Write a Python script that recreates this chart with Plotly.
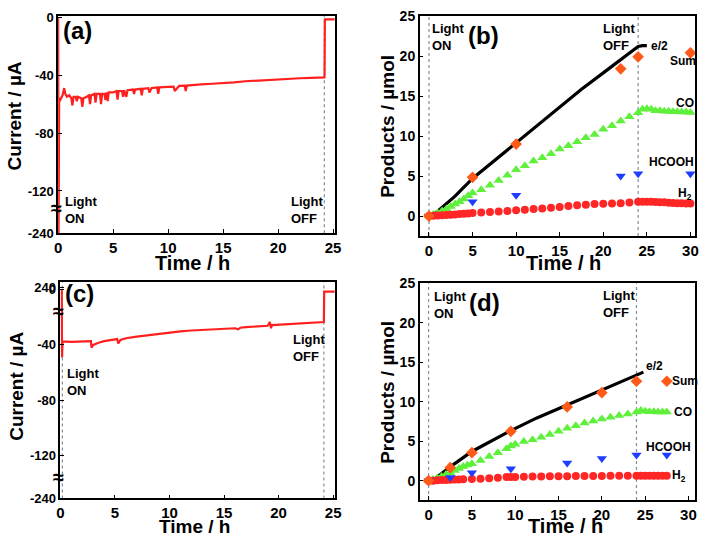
import plotly.graph_objects as go
from plotly.subplots import make_subplots

# ---------------- data ----------------
# (a) photocurrent, sample 1
time_a = [0.0, 0.04, 0.09, 0.2, 0.4, 0.55, 0.65, 0.8, 1.0, 1.2, 1.3, 1.4, 1.6, 1.7, 1.8, 2.1, 2.2,
          2.3, 2.6, 2.8, 2.9, 3.0, 3.3, 3.4, 3.5, 3.8, 3.9, 4.0, 4.2, 4.3, 4.4, 4.5, 4.6, 5.0, 5.3,
          5.4, 5.5, 5.8, 5.9, 6.0, 6.2, 6.3, 6.8, 6.9, 7.0, 7.5, 7.6, 7.7, 8.2, 8.3, 8.5, 9.0, 9.1,
          9.2, 10.0, 10.5, 10.6, 11.0, 11.5, 11.6, 11.7, 12.0, 13.0, 14.0, 15.0, 16.0, 17.0, 18.0,
          19.0, 20.0, 21.0, 22.0, 23.0, 24.2, 24.22, 24.25, 25.15]
current_a = [0, -240, -56, -57, -54, -49, -53, -55, -54, -56, -61, -55, -55, -58, -55, -56, -62,
             -56, -55, -54, -60, -54, -53, -59, -53, -53, -60, -53, -53, -57, -52, -58, -52, -52, -51,
             -57, -51, -51, -55, -50.5, -55, -50.5, -50, -53, -50, -49.5, -54, -49.5, -49, -52, -49, -48.5, -53,
             -48.5, -48.2, -48, -51, -47.5, -47.3, -51, -47.3, -47, -46.5, -46, -45.7, -45, -44.3, -43.8,
             -43.2, -42.8, -42.4, -42.2, -42, -41.6, -41, -1.6, -1.6]

# (c) photocurrent, sample 2
time_c = [0.12, 0.15, 0.2, 1.0, 2.0, 2.8, 2.85, 3.0, 3.5, 4.0, 5.2, 5.3, 5.5, 6.0, 7.0, 8.0, 9.0,
          10.0, 11.0, 12.0, 13.0, 14.0, 15.0, 16.0, 16.3, 16.5, 17.0, 18.0, 19.0, 19.2, 19.3, 19.4,
          20.0, 20.5, 21.0, 22.0, 23.0, 24.15, 24.18, 25.15]
current_c = [0, -49, -37.5, -37.8, -37.6, -37.3, -42, -40, -38.5, -37.3, -35.8, -39, -36.5, -35.2,
             -34, -33, -32, -31.2, -30.3, -29.6, -29.2, -28.8, -28.4, -28, -28.8, -27.6, -27.2, -26.7,
             -26.2, -23.5, -28, -25.7, -25.4, -25.6, -25, -24.5, -24, -23.5, -1.5, -1.5]

# (b) products, sample 1
h2_b_t = [0, 0.5, 1, 1.5, 2, 2.5, 3, 3.5, 4, 4.5, 5, 6, 7, 8, 9, 10, 11, 12, 13, 14, 15, 16, 17, 18,
          19, 20, 21, 22, 23, 24, 24.5, 25, 25.5, 26, 26.5, 27, 27.5, 28, 28.5, 29, 29.5, 30]
h2_b = [0, 0.03, 0.06, 0.1, 0.13, 0.17, 0.21, 0.25, 0.29, 0.33, 0.38, 0.45, 0.5, 0.57, 0.65, 0.73,
        0.8, 0.88, 0.96, 1.05, 1.13, 1.25, 1.34, 1.42, 1.5, 1.54, 1.58, 1.62, 1.7, 1.78, 1.8, 1.8,
        1.78, 1.76, 1.74, 1.72, 1.68, 1.65, 1.62, 1.6, 1.58, 1.56]
co_b_t = h2_b_t
co_b = [0, 0.2, 0.4, 0.65, 0.9, 1.2, 1.5, 1.8, 2.15, 2.55, 2.9, 3.3, 3.85, 4.45, 5.1, 5.8, 6.3,
        6.9, 7.3, 7.8, 8.4, 8.8, 9.3, 9.8, 10.2, 10.85, 11.3, 11.9, 12.4, 12.9, 13.35, 13.4, 13.35,
        13.15, 13.15, 13.1, 13.1, 13.05, 13.05, 13.0, 13.0, 12.95]
hcooh_b_t = [0, 5, 10, 22, 24, 30]
hcooh_b = [0, 1.8, 2.6, 5.0, 5.3, 5.3]
sum_b_t = [0, 5, 10, 22, 24, 30]
sum_b = [0, 4.85, 9.0, 18.4, 19.9, 20.4]
e2_b_t = [0, 0.5, 1, 2, 3, 5, 7.5, 10, 12.5, 15, 17.5, 20, 22, 24, 24.5, 25]
e2_b = [0, 0.2, 0.6, 1.5, 2.5, 4.7, 6.95, 9.2, 11.4, 13.7, 15.85, 17.9, 19.55, 21.2, 21.3, 21.3]

# (d) products, sample 2
h2_d_t = [0, 0.5, 1, 1.5, 2, 2.5, 3, 3.5, 4, 5, 6, 7, 8, 9, 9.5, 10, 11, 12, 13, 14, 15, 16, 17,
          18, 19, 20, 21, 22, 23, 24, 24.5, 25, 25.5, 26, 26.5, 27, 27.5]
h2_d = [0, 0.0, 0.05, 0.08, 0.1, 0.12, 0.14, 0.15, 0.17, 0.2, 0.25, 0.3, 0.37, 0.45, 0.47, 0.48,
        0.5, 0.52, 0.53, 0.55, 0.56, 0.57, 0.58, 0.59, 0.6, 0.6, 0.61, 0.61, 0.62, 0.62, 0.61, 0.61,
        0.61, 0.61, 0.61, 0.61, 0.61]
co_d_t = [0, 0.5, 1, 1.5, 2, 2.5, 3, 3.5, 4, 4.5, 5, 6, 7, 8, 9, 9.5, 10, 11, 12, 13, 14, 15, 16,
          17, 18, 19, 20, 21, 22, 23, 24, 24.5, 25, 25.5, 26, 26.5, 27, 27.5]
co_d = [0, 0.15, 0.33, 0.53, 0.78, 1.0, 1.3, 1.55, 1.8, 2.0, 2.15, 2.55, 3.05, 3.55, 4.05, 4.4,
        4.6, 4.95, 5.2, 5.5, 5.85, 6.25, 6.65, 6.95, 7.3, 7.55, 7.8, 8.05, 8.25, 8.45, 8.7, 8.9,
        8.8, 8.72, 8.72, 8.7, 8.7, 8.7]
hcooh_d_t = [0, 2.5, 5, 9.5, 16, 20, 24, 27.5]
hcooh_d = [0, 0.4, 1.0, 1.5, 2.25, 2.8, 3.25, 3.25]
sum_d_t = [0, 2.5, 5, 9.5, 16, 20, 24, 27.5]
sum_d = [0, 1.65, 3.55, 6.25, 9.35, 11.15, 12.6, 12.6]
e2_d_t = [0, 0.5, 1, 2.5, 5, 7.5, 9.5, 12.5, 16, 20, 24, 24.5, 24.8]
e2_d = [0, 0.1, 0.45, 1.75, 3.7, 5.15, 6.35, 7.95, 9.6, 11.5, 13.4, 13.7, 13.75]

current_ticks_a = [0, -40, -80, -120, -240]
current_ticks_c = [240, 0, -40, -80, -120, -240]
time_ticks_a = [0, 5, 10, 15, 20, 25]
time_ticks_b = [0, 5, 10, 15, 20, 25, 30]
product_ticks = [0, 5, 10, 15, 20, 25]
light_on_c = 0.18
light_off_a = 24.2
light_off_c = 24.15
light_on_b = 0
light_off_b = 24


# ------------- broken-axis scales -------------
def brk_a(v):
    return v if v >= -120 else -120 + (v + 120) * 0.2425


def brk_c(v):
    if v > 0:
        return v * 0.00583
    if v >= -120:
        return v
    return -120 + (v + 120) * 0.257


FONT = "Liberation Sans"
RED = "#ff1f1f"
H2C = "#ff2626"
COC = "#5ef03a"
HCC = "#1f3dff"
SUMC = "#ff5a1a"
DOT = "#7f8c99"

fig = make_subplots(rows=2, cols=2)

fig.add_trace(go.Scatter(x=time_a, y=[brk_a(v) for v in current_a], mode="lines",
                         line=dict(color=RED, width=2.2)), row=1, col=1)
fig.add_trace(go.Scatter(x=time_c, y=[brk_c(v) for v in current_c], mode="lines",
                         line=dict(color=RED, width=2.2)), row=2, col=1)


def products(row, e2t, e2, cot, co, h2t, h2, hct, hc, st, s):
    fig.add_trace(go.Scatter(x=e2t, y=e2, mode="lines", line=dict(color="black", width=3.2)),
                  row=row, col=2)
    fig.add_trace(go.Scatter(x=cot, y=co, mode="markers",
                             marker=dict(symbol="triangle-up", size=9, color=COC)), row=row, col=2)
    fig.add_trace(go.Scatter(x=h2t, y=h2, mode="markers",
                             marker=dict(symbol="circle", size=8, color=H2C)), row=row, col=2)
    fig.add_trace(go.Scatter(x=hct, y=hc, mode="markers",
                             marker=dict(symbol="triangle-down", size=9, color=HCC)), row=row, col=2)
    fig.add_trace(go.Scatter(x=st, y=s, mode="markers",
                             marker=dict(symbol="diamond", size=9, color=SUMC)), row=row, col=2)


products(1, e2_b_t, e2_b, co_b_t, co_b, h2_b_t, h2_b, hcooh_b_t, hcooh_b, sum_b_t, sum_b)
products(2, e2_d_t, e2_d, co_d_t, co_d, h2_d_t, h2_d, hcooh_d_t, hcooh_d, sum_d_t, sum_d)

W, H = 708, 544


def px(x):
    return x / W


def py(y):
    return 1 - y / H


axbase = dict(showline=True, linecolor="black", linewidth=1.5, mirror=True, ticks="inside",
              ticklen=4, tickwidth=1.3, tickcolor="black", showgrid=False, zeroline=False)
tf15 = dict(family=FONT, size=15, color="black", weight="bold")
tf14 = dict(family=FONT, size=14, color="black", weight="bold")
tf13 = dict(family=FONT, size=13, color="black", weight="bold")

fig.update_layout(
    width=W, height=H, margin=dict(l=0, r=0, t=0, b=0),
    plot_bgcolor="white", paper_bgcolor="white", showlegend=False,
    xaxis=dict(axbase, domain=[px(55), px(336)], range=[0, 25.15], tickvals=time_ticks_a, tickfont=tf15),
    yaxis=dict(axbase, domain=[py(232), py(8.3)], range=[brk_a(-240), 0.7],
               tickvals=[brk_a(v) for v in current_ticks_a], ticktext=[str(v) for v in current_ticks_a],
               tickfont=tf13),
    xaxis2=dict(axbase, domain=[px(422.3), px(702.3)], range=[-1.06, 30.57], tickvals=time_ticks_b,
                tickfont=tf15),
    yaxis2=dict(axbase, domain=[py(235), py(8.3)], range=[-2.5, 25], tickvals=product_ticks, tickfont=tf14),
    xaxis3=dict(axbase, domain=[px(57.3), px(336)], range=[0, 25.15], tickvals=time_ticks_a, tickfont=tf15),
    yaxis3=dict(axbase, domain=[py(505.3), py(282)], range=[brk_c(-240), 5.6],
                tickvals=[brk_c(v) for v in current_ticks_c], ticktext=[str(v) for v in current_ticks_c],
                tickfont=tf13),
    xaxis4=dict(axbase, domain=[px(422.3), px(702.3)], range=[-1.02, 30.8], tickvals=time_ticks_b,
                tickfont=tf15),
    yaxis4=dict(axbase, domain=[py(507), py(283.7)], range=[-2.46, 25], tickvals=product_ticks, tickfont=tf14),
)

# dotted light on/off markers
for xr, yr, xv in [("x", "y", light_off_a), ("x3", "y3", light_on_c), ("x3", "y3", light_off_c),
                   ("x2", "y2", light_on_b), ("x2", "y2", light_off_b),
                   ("x4", "y4", light_on_b), ("x4", "y4", light_off_b)]:
    fig.add_shape(type="line", xref=xr, yref=yr + " domain", x0=xv, x1=xv, y0=0, y1=1,
                  line=dict(color=DOT, width=1.2, dash="dot"), layer="below")

ann = []


def text(x, y, t, size, xref="paper", yref="paper", xanchor="center", yanchor="middle", angle=0,
         align="left"):
    ann.append(dict(x=x, y=y, xref=xref, yref=yref, text=t, showarrow=False, xanchor=xanchor,
                    yanchor=yanchor, textangle=angle, align=align,
                    font=dict(family=FONT, size=size, color="black")))


# axis titles
text(px(11), py(111), "<b>Current / µA</b>", 19, angle=-90)
text(px(12.5), py(390), "<b>Current / µA</b>", 19, angle=-90)
text(px(389.5), py(122), "<b>Products / µmol</b>", 19, angle=-90)
text(px(389.5), py(396), "<b>Products / µmol</b>", 19, angle=-90)
text(px(191), py(262.5), "<b>Time / h</b>", 20)
text(px(568), py(262.5), "<b>Time / h</b>", 20)
text(px(193), py(534), "<b>Time / h</b>", 19)
text(px(570), py(534), "<b>Time / h</b>", 20)

# panel letters
text(px(75), py(23), "<b>(a)</b>", 24)
text(px(486.7), py(28.3), "<b>(b)</b>", 24)
text(px(76.7), py(293.7), "<b>(c)</b>", 24)
text(px(488.3), py(303.7), "<b>(d)</b>", 24)

# light on / off
for lx, ly, t in [(60, 190, "ON"), (290, 190, "OFF"), (432.7, 11, "ON"), (606.7, 11, "OFF"),
                  (61.7, 367, "ON"), (291.7, 332, "OFF"), (435, 287, "ON"), (606.7, 286, "OFF")]:
    text(px(lx), py(ly), "<b>Light<br>" + t + "</b>", 13, xanchor="left", yanchor="top")

# axis break marks
for bx, by in [(53.5, 206), (55, 312), (55, 483)]:
    text(px(bx), py(by), "<b>≈</b>", 20)

# series labels (b)
text(25.2, 21.3, "<b>e/2</b>", 12, "x2", "y2", xanchor="left")
text(29.1, 19.35, "<b>Sum</b>", 12, "x2", "y2")
text(29.4, 14.1, "<b>CO</b>", 12, "x2", "y2")
text(27.8, 6.7, "<b>HCOOH</b>", 12, "x2", "y2")
text(29.4, 2.75, "<b>H<sub>2</sub></b>", 12, "x2", "y2")
# series labels (d)
text(24.9, 14.55, "<b>e/2</b>", 12, "x4", "y4", xanchor="left")
text(27.9, 12.6, "<b>Sum</b>", 12, "x4", "y4", xanchor="left")
text(28.1, 8.73, "<b>CO</b>", 12, "x4", "y4", xanchor="left")
text(27.7, 4.3, "<b>HCOOH</b>", 12, "x4", "y4")
text(27.9, 0.6, "<b>H<sub>2</sub></b>", 12, "x4", "y4", xanchor="left")

fig.update_layout(annotations=ann)
fig.write_html("out.html", config={"displayModeBar": False},
               post_script="document.body.style.margin='0px';document.body.style.padding='0px';")
